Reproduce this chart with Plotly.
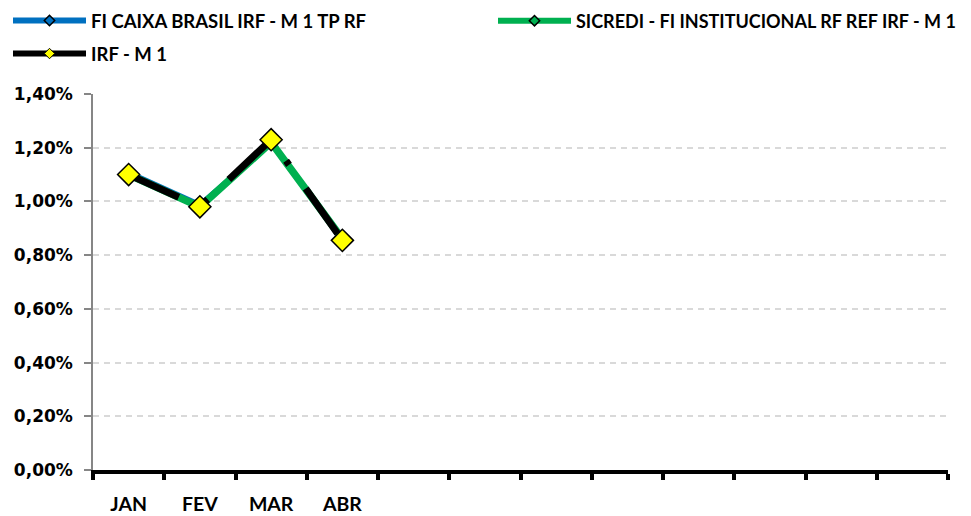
import plotly.graph_objects as go

months = ["JAN", "FEV", "MAR", "ABR"]
month_pos = [1, 2, 3, 4]
boundaries = [0.5 + i for i in range(13)]

caixa = [0.0111, 0.0099, 0.0122, 0.0086]
sicredi = [0.0110, 0.0098, 0.0122, 0.0086]
irf_m1 = [0.0110, 0.0098, 0.0123, 0.00855]

names = ["FI CAIXA BRASIL IRF - M 1 TP RF",
         "SICREDI - FI INSTITUCIONAL RF REF IRF - M 1",
         "IRF - M 1"]

BLUE = "#0070C0"
GREEN = "#00B050"
FONT = "Lato"

W, H = 963, 508  # page offset of 8px by the browser body margin

fig = go.Figure()
fig.add_trace(go.Scatter(x=month_pos, y=caixa, mode="lines", line=dict(color=BLUE, width=4),
                         showlegend=False, hoverinfo="skip"))
fig.add_trace(go.Scatter(x=month_pos, y=sicredi, mode="lines", line=dict(color=GREEN, width=7.5),
                         showlegend=False))
fig.add_trace(go.Scatter(x=month_pos, y=irf_m1, mode="lines+markers",
                         line=dict(color="black", width=7, dash="55px,29px,5px,29px"),
                         marker=dict(symbol="diamond", size=17, color="#FFFF00",
                                     line=dict(color="black", width=1.5)),
                         showlegend=False))

# legend entries
fig.add_trace(go.Scatter(x=[None], y=[None], mode="lines+markers", name=names[0],
                         line=dict(color=BLUE, width=6),
                         marker=dict(symbol="diamond", size=8, color=BLUE, line=dict(color="black", width=1.5)),
                         legend="legend"))
fig.add_trace(go.Scatter(x=[None], y=[None], mode="lines+markers", name=names[1],
                         line=dict(color=GREEN, width=6),
                         marker=dict(symbol="diamond", size=8, color=GREEN, line=dict(color="black", width=1.5)),
                         legend="legend2"))
fig.add_trace(go.Scatter(x=[None], y=[None], mode="lines+markers", name=names[2],
                         line=dict(color="black", width=6),
                         marker=dict(symbol="diamond", size=8, color="#FFFF00", line=dict(color="black", width=1)),
                         legend="legend3"))


def legend_cfg(x, y, size):
    return dict(x=x, y=y, xref="container", yref="container", xanchor="left", yanchor="middle",
                bgcolor="rgba(0,0,0,0)", itemwidth=73,
                font=dict(family=FONT, size=size, color="black", weight="bold"))


fig.update_layout(
    width=W, height=H,
    margin=dict(l=85, r=23, t=86, b=46, autoexpand=False),
    paper_bgcolor="white", plot_bgcolor="white",
    separators=",.",
    font=dict(family=FONT, size=18.5, color="black", weight="bold"),
    legend=legend_cfg(0.0, 1 - 13 / H, 18.5),
    legend2=legend_cfg(485 / W, 1 - 13 / H, 18),
    legend3=legend_cfg(0.0, 1 - 46 / H, 18.5),
    xaxis=dict(range=[0.5, 12.5], tickmode="array", tickvals=month_pos, ticktext=months,
               ticks="", showgrid=False, zeroline=False, tickangle=0,
               showline=True, linecolor="black", linewidth=4,
               ticklabelstandoff=14,
               tickfont=dict(family=FONT, size=19.5, color="black", weight="bold"),
               minor=dict(tickmode="array", tickvals=boundaries, ticks="outside",
                          ticklen=6, tickwidth=4, tickcolor="black", showgrid=False)),
    yaxis=dict(range=[0, 0.014], tickmode="array",
               tickvals=[0, 0.002, 0.004, 0.006, 0.008, 0.010, 0.012, 0.014],
               tickformat=".2%", ticks="outside", ticklen=7, tickwidth=1.5, tickcolor="#868686",
               showline=True, linecolor="#868686", linewidth=1.5,
               showgrid=True, gridcolor="#D9D9D9", griddash="6px,5px", gridwidth=1.5,
               zeroline=False, ticklabelstandoff=8,
               tickfont=dict(family="DejaVu Sans", size=17, color="black", weight="bold")),
)

fig.write_html("out.html")
